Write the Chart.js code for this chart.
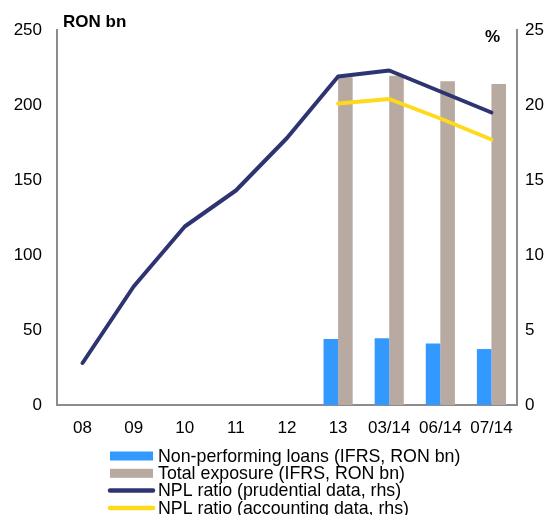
<!DOCTYPE html>
<html>
<head>
<meta charset="utf-8">
<script src="https://cdn.jsdelivr.net/npm/chart.js@4/dist/chart.umd.min.js"></script>
<style>
  html, body { margin: 0; padding: 0; background: #fff; }
  #wrap { width: 554px; height: 515px; position: relative; }
</style>
</head>
<body>
<div id="wrap"><canvas id="c" width="554" height="515"></canvas></div>
<script>
// Categories (years, then 2014 months)
const categories = ['08', '09', '10', '11', '12', '13', '03/14', '06/14', '07/14'];

// RON bn, left axis
const nplLoans = [null, null, null, null, null, 44, 44.5, 41, 37.3];
const totalExposure = [null, null, null, null, null, 218.5, 219.5, 215.8, 214];

// %, right axis
const nplRatioPrudential = [2.8, 7.9, 11.9, 14.3, 17.8, 21.9, 22.3, 20.9, 19.5];
const nplRatioAccounting = [null, null, null, null, null, 20.1, 20.4, 19.1, 17.7];

const leftTicks = [0, 50, 100, 150, 200, 250];
const rightTicks = [0, 5, 10, 15, 20, 25];

const labels = {
  npl: 'Non-performing loans (IFRS, RON bn)',
  exposure: 'Total exposure (IFRS, RON bn)',
  prud: 'NPL ratio (prudential data, rhs)',
  acc: 'NPL ratio (accounting data, rhs)'
};

const FONT = '"Liberation Sans", Arial, sans-serif';
const C_BLUE = '#3399FF';
const C_GREY = '#B8A9A1';
const C_NAVY = '#2E3472';
const C_YELLOW = '#FFD91C';
const C_AXIS = '#8C8C8C';

// Unit captions and the stacked legend under the plot
const decorPlugin = {
  id: 'decor',
  afterDraw(chart) {
    const ctx = chart.ctx;
    const area = chart.chartArea;
    ctx.save();
    ctx.fillStyle = '#000';
    ctx.font = 'bold 17px ' + FONT;
    ctx.textBaseline = 'middle';
    ctx.textAlign = 'left';
    ctx.fillText('RON bn', area.left + 6, 22);
    ctx.textAlign = 'right';
    ctx.fillText('%', area.right - 17, 37);

    const items = chart.data.datasets.map(ds => ({
      text: ds.label, color: ds.borderColor || ds.backgroundColor, type: ds.type
    }));
    const x0 = 110, x1 = 153, textX = 158;
    let y = 456;
    ctx.font = '17.8px ' + FONT;
    ctx.textAlign = 'left';
    items.forEach(it => {
      if (it.type === 'line') {
        ctx.strokeStyle = it.color;
        ctx.lineWidth = 4.5;
        ctx.lineCap = 'round';
        ctx.beginPath();
        ctx.moveTo(x0, y);
        ctx.lineTo(x1, y);
        ctx.stroke();
      } else {
        ctx.fillStyle = it.color;
        ctx.fillRect(x0, y - 4.5, x1 - x0, 9);
      }
      ctx.fillStyle = '#000';
      ctx.fillText(it.text, textX, y + 1);
      y += 17.3;
    });
    ctx.restore();
  }
};

new Chart(document.getElementById('c'), {
  type: 'bar',
  data: {
    labels: categories,
    datasets: [
      { type: 'bar', label: labels.npl, data: nplLoans, backgroundColor: C_BLUE,
        yAxisID: 'y', order: 3, categoryPercentage: 0.57, barPercentage: 1.0 },
      { type: 'bar', label: labels.exposure, data: totalExposure, backgroundColor: C_GREY,
        yAxisID: 'y', order: 4, categoryPercentage: 0.57, barPercentage: 1.0 },
      { type: 'line', label: labels.prud, data: nplRatioPrudential, borderColor: C_NAVY,
        backgroundColor: C_NAVY, borderWidth: 4, pointRadius: 0, tension: 0,
        borderCapStyle: 'round', borderJoinStyle: 'round', yAxisID: 'y1', order: 1 },
      { type: 'line', label: labels.acc, data: nplRatioAccounting, borderColor: C_YELLOW,
        backgroundColor: C_YELLOW, borderWidth: 4, pointRadius: 0, tension: 0,
        borderCapStyle: 'round', borderJoinStyle: 'round', yAxisID: 'y1', order: 2 }
    ]
  },
  options: {
    responsive: false,
    animation: false,
    layout: { padding: { top: 30, bottom: 80, left: 0, right: 0 } },
    plugins: { legend: { display: false }, tooltip: { enabled: false } },
    scales: {
      x: {
        grid: { display: false, drawTicks: false },
        border: { color: C_AXIS, width: 2 },
        ticks: { color: '#000', font: { family: FONT, size: 17 }, padding: 13, maxRotation: 0, autoSkip: false },
        afterFit(s) { s.height = 30; }
      },
      y: {
        position: 'left', min: 0, max: 250,
        afterBuildTicks(s) { s.ticks = leftTicks.map(v => ({ value: v })); },
        grid: { display: false, drawTicks: false },
        border: { color: C_AXIS, width: 2 },
        ticks: { color: '#000', font: { family: FONT, size: 17 }, padding: 15 },
        afterFit(s) { s.width = 57; }
      },
      y1: {
        position: 'right', min: 0, max: 25,
        afterBuildTicks(s) { s.ticks = rightTicks.map(v => ({ value: v })); },
        grid: { display: false, drawTicks: false },
        border: { color: C_AXIS, width: 2 },
        ticks: { color: '#000', font: { family: FONT, size: 17 }, padding: 8 },
        afterFit(s) { s.width = 37; }
      }
    }
  },
  plugins: [decorPlugin]
});
</script>
</body>
</html>
